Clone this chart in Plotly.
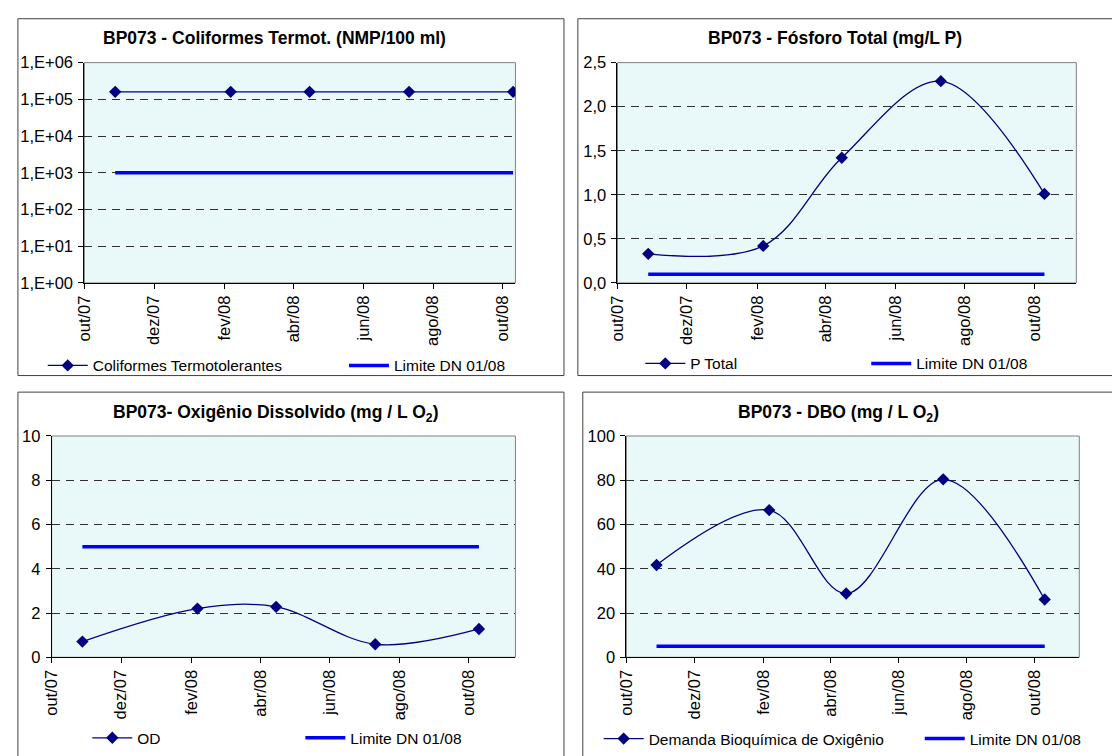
import plotly.graph_objects as go

W, H = 1112, 756
FONT = "Liberation Sans, Arial, sans-serif"

# ---------------- data ----------------
sample_dates = ['2007-10-28', '2008-02-06', '2008-04-15', '2008-07-11', '2008-10-10']

coliformes = [160000, 160000, 160000, 160000, 160000]
limite_coliformes = [1000, 1000, 1000, 1000, 1000]

fosforo_total = [0.33, 0.42, 1.42, 2.29, 1.01]
limite_fosforo = [0.1, 0.1, 0.1, 0.1, 0.1]

od = [0.71, 2.20, 2.28, 0.59, 1.28]
limite_od = [5, 5, 5, 5, 5]

dbo = [41.7, 66.5, 28.8, 80.4, 26.1]
limite_dbo = [5, 5, 5, 5, 5]

month_ticks = ['2007-10-01', '2007-12-01', '2008-02-01', '2008-04-01',
               '2008-06-01', '2008-08-01', '2008-10-01']
month_labels = ['out/07', 'dez/07', 'fev/08', 'abr/08', 'jun/08', 'ago/08', 'out/08']

colif_ticks = [1, 10, 100, 1000, 10000, 100000, 1000000]
colif_labels = ['1,E+00', '1,E+01', '1,E+02', '1,E+03', '1,E+04', '1,E+05', '1,E+06']
fosforo_ticks = [0, 0.5, 1.0, 1.5, 2.0, 2.5]
fosforo_labels = ['0,0', '0,5', '1,0', '1,5', '2,0', '2,5']
od_ticks = [0, 2, 4, 6, 8, 10]
od_labels = ['0', '2', '4', '6', '8', '10']
dbo_ticks = [0, 20, 40, 60, 80, 100]
dbo_labels = ['0', '20', '40', '60', '80', '100']

limit_name = 'Limite DN 01/08'

# ---------------- layout helpers (pixel -> paper) ----------------
def fx(p):
    return p / W

def fy(p):
    return 1 - p / H

LEG_ITEM_W = 40          # legend symbol width (px)
LEG_TEXT_OFFSET = LEG_ITEM_W + 10

panels = [
    dict(title='BP073 - Coliformes Termot. (NMP/100 ml)', values=coliformes,
         limit=limite_coliformes, name='Coliformes Termotolerantes',
         ytype='log', yrange=[0, 6], ticks=colif_ticks, labels=colif_labels,
         plot=(75, 510, 55, 281), xend='2008-10-12', frame=(8, 559, 10, 376),
         title_pos=(267, 30), leg=((83, 366), (387, 366))),
    dict(title='BP073 - Fósforo Total (mg/L P)', values=fosforo_total,
         limit=limite_fosforo, name='P Total',
         ytype='linear', yrange=[0, 2.5], ticks=fosforo_ticks, labels=fosforo_labels,
         plot=(613, 1076, 55, 281), xend='2008-11-07', frame=(573, 1124, 10, 376),
         title_pos=(832, 30), leg=((686, 364), (914, 364))),
    dict(title='BP073- Oxigênio Dissolvido (mg / L O<sub>2</sub>)', values=od,
         limit=limite_od, name='OD',
         ytype='linear', yrange=[0, 10], ticks=od_ticks, labels=od_labels,
         plot=(42, 510, 438, 665), xend='2008-11-11', frame=(8, 559, 393, 780),
         title_pos=(268, 415), leg=((128, 748), (343, 748))),
    dict(title='BP073 - DBO (mg / L O<sub>2</sub>)', values=dbo,
         limit=limite_dbo, name='Demanda Bioquímica de Oxigênio',
         ytype='linear', yrange=[0, 100], ticks=dbo_ticks, labels=dbo_labels,
         plot=(622, 1079, 438, 665), xend='2008-11-10', frame=(578, 1129, 393, 780),
         title_pos=(836, 415), leg=((644, 749), (968, 749))),
]

fig = go.Figure()
layout = dict(
    width=W, height=H,
    margin=dict(l=0, r=0, t=0, b=0),
    paper_bgcolor='white',
    plot_bgcolor='#E9F9F9',
    showlegend=True,
    font=dict(family=FONT, size=16, color='black'),
    shapes=[], annotations=[],
)

legend_idx = 0
for i, p in enumerate(panels, start=1):
    xa = 'x' if i == 1 else f'x{i}'
    ya = 'y' if i == 1 else f'y{i}'
    xkey = 'xaxis' if i == 1 else f'xaxis{i}'
    ykey = 'yaxis' if i == 1 else f'yaxis{i}'
    x0, x1, y0, y1 = p['plot']

    layout[xkey] = dict(
        domain=[fx(x0), fx(x1)], anchor=ya, type='date',
        range=['2007-10-01', p['xend']],
        tickmode='array', tickvals=month_ticks, ticktext=month_labels,
        tickangle=-90, ticks='outside', ticklen=5, tickcolor='black',
        showline=True, linecolor='black', linewidth=1,
        showgrid=False, zeroline=False,
        tickfont=dict(size=16.5, family=FONT, color='black'),
        fixedrange=True,
    )
    layout[ykey] = dict(
        domain=[fy(y1), fy(y0)], anchor=xa, type=p['ytype'],
        range=p['yrange'],
        tickmode='array', tickvals=p['ticks'], ticktext=p['labels'],
        ticks='outside', ticklen=5, tickcolor='black',
        showline=True, linecolor='black', linewidth=1,
        showgrid=True, gridcolor='#303030', gridwidth=1, griddash='8px,6px',
        zeroline=False, ticklabelstandoff=2,
        tickfont=dict(size=16.5, family=FONT, color='black'),
        fixedrange=True,
    )

    # legends: one per entry so each can be placed like the original
    leg_keys = []
    for (text_x, ly) in p['leg']:
        legend_idx += 1
        lk = 'legend' if legend_idx == 1 else f'legend{legend_idx}'
        leg_keys.append(lk)
        layout[lk] = dict(
            x=fx(text_x - LEG_TEXT_OFFSET), y=fy(ly), xanchor='left', yanchor='middle',
            orientation='h', bgcolor='rgba(0,0,0,0)', borderwidth=0,
            itemwidth=LEG_ITEM_W,
            font=dict(size=15.5, family=FONT, color='black'),
            visible=True,
        )

    fig.add_trace(go.Scatter(
        x=sample_dates, y=p['values'], name=p['name'],
        mode='lines+markers', xaxis=xa, yaxis=ya, legend=leg_keys[0],
        showlegend=True,
        line=dict(color='#000080', width=1.3, shape='spline', smoothing=1),
        marker=dict(symbol='diamond', size=9.5, color='#000080'),
        hoverinfo='skip',
    ))
    fig.add_trace(go.Scatter(
        x=sample_dates, y=p['limit'], name=limit_name,
        mode='lines', xaxis=xa, yaxis=ya, legend=leg_keys[1],
        showlegend=True,
        line=dict(color='#0000FF', width=3.5),
        hoverinfo='skip',
    ))

    # plot area border (gray), below the black axis lines
    layout['shapes'].append(dict(
        type='rect', xref=f'{xa} domain', yref=f'{ya} domain',
        x0=0, x1=1, y0=0, y1=1, line=dict(color='#808080', width=1),
        layer='below',
    ))
    # chart frame
    fx0, fx1, fy0, fy1 = p['frame']
    layout['shapes'].append(dict(
        type='rect', xref='paper', yref='paper',
        x0=fx(fx0), x1=fx(fx1), y0=fy(fy1), y1=fy(fy0),
        line=dict(color='#404040', width=1), layer='below',
    ))
    tx, ty = p['title_pos']
    layout['annotations'].append(dict(
        text='<b>' + p['title'] + '</b>', x=fx(tx), y=fy(ty),
        xref='paper', yref='paper', xanchor='center', yanchor='middle',
        showarrow=False, font=dict(size=17.5, family=FONT, color='black'),
    ))

fig.update_layout(**layout)
fig.write_html(
    'out.html',
    config={'displayModeBar': False},
    post_script="document.body.style.margin='0';document.body.style.overflow='hidden';",
)
